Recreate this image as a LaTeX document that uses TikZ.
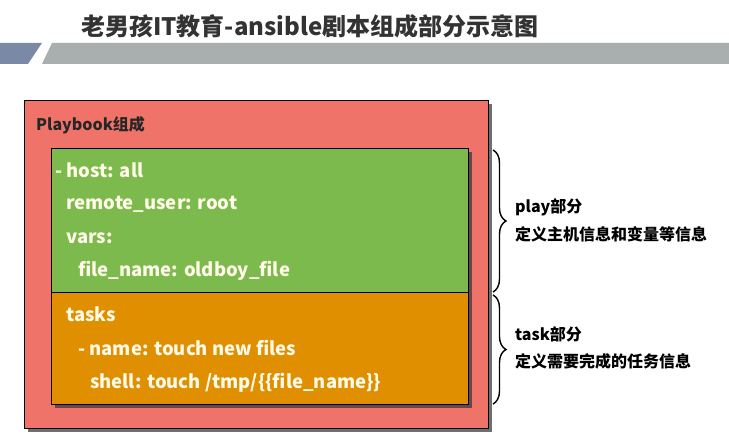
\documentclass[tikz,border=0pt]{standalone}
\usepackage{fontspec}
\setmainfont{Noto Sans CJK SC}
\usetikzlibrary{shadows,decorations.pathreplacing}
\definecolor{pbred}{HTML}{F0736A}
\definecolor{playgreen}{HTML}{7DBA4D}
\definecolor{taskorange}{HTML}{E08F00}
\definecolor{codetext}{HTML}{FFFBE8}
\definecolor{titlegray}{HTML}{333333}
\definecolor{bandgray}{HTML}{A9AFAE}
\definecolor{bandblue}{HTML}{7A8AA6}
\tikzset{
  boxstyle/.style={draw=black, line width=0.8pt, rectangle, inner sep=0pt, anchor=north west,
    drop shadow={shadow xshift=4pt, shadow yshift=-4pt, opacity=0.7, fill=black!80}},
  codeline/.style={anchor=west, inner sep=0pt, text=codetext, font=\fontsize{18.5}{21}\selectfont\bfseries},
  sidetext/.style={anchor=west, inner sep=0pt, text=black, font=\fontsize{16}{18}\selectfont\bfseries},
  bracestyle/.style={draw=black, line width=1.4pt, decorate, decoration={brace, amplitude=13pt}}
}
\begin{document}
\begin{tikzpicture}[x=1pt,y=-1pt]
\useasboundingbox (0,0) rectangle (729,438);
\fill[white] (0,0) rectangle (729,438);
% banner
\fill[bandblue] (0,43) -- (42,43) -- (28,64) -- (0,64) -- cycle;
\fill[bandgray] (52,43) -- (729,43) -- (729,64) -- (42,64) -- cycle;
\node[anchor=west, inner sep=0pt, text=titlegray, font=\fontsize{24}{27}\selectfont\bfseries] (title) at (81,26) {老男孩IT教育-ansible剧本组成部分示意图};
% boxes
\node[boxstyle, fill=pbred, minimum width=464pt, minimum height=328pt] (pb) at (24,100) {};
\node[anchor=west, inner sep=0pt, font=\fontsize{16}{18}\selectfont\bfseries, text=black!85] (pblabel) at (36,125) {Playbook组成};
\node[boxstyle, fill=playgreen, minimum width=417pt, minimum height=256pt] (group) at (51,148) {};
\node[draw=black, line width=0.8pt, fill=playgreen, anchor=north west, inner sep=0pt, minimum width=417pt, minimum height=144pt] (play) at (51,148) {};
\node[draw=black, line width=0.8pt, fill=taskorange, anchor=north west, inner sep=0pt, minimum width=417pt, minimum height=112pt] (task) at (51,292) {};
% code lines
\node[codeline] (l1) at (55,170) {- host: all};
\node[codeline] (l2) at (66,204) {remote\_user: root};
\node[codeline] (l3) at (66,238) {vars:};
\node[codeline] (l4) at (78,271) {file\_name: oldboy\_file};
\node[codeline] (l5) at (66,314) {tasks};
\node[codeline] (l6) at (78,348) {- name: touch new files};
\node[codeline] (l7) at (90,383) {shell: touch /tmp/\{\{file\_name\}\}};
% braces
\coordinate (b1s) at (493,150);
\coordinate (b1e) at (493,292);
\coordinate (b2s) at (493,295);
\coordinate (b2e) at (493,404);
\draw[bracestyle] (b1s) -- (b1e);
\draw[bracestyle] (b2s) -- (b2e);
\node[sidetext] (p1) at (515,207) {play部分};
\node[sidetext] (p2) at (515,234) {定义主机信息和变量等信息};
\node[sidetext] (t1) at (515,334) {task部分};
\node[sidetext] (t2) at (515,361) {定义需要完成的任务信息};
\end{tikzpicture}
\end{document}
